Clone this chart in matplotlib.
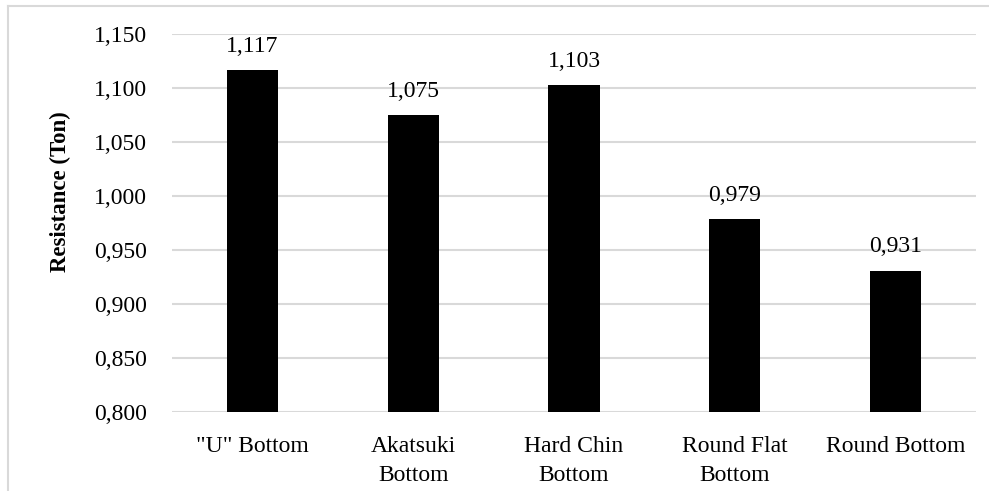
import matplotlib.pyplot as plt
from matplotlib.ticker import FuncFormatter, MultipleLocator
from matplotlib.lines import Line2D

# Data
hull_types = ['"U" Bottom', 'Akatsuki\nBottom', 'Hard Chin\nBottom', 'Round Flat\nBottom', 'Round Bottom']
resistance = [1.117, 1.075, 1.103, 0.979, 0.931]

plt.rcParams['font.family'] = ['Liberation Serif', 'DejaVu Serif']

W, H = 989, 491
fig = plt.figure(figsize=(W / 100, H / 100), dpi=100)
# plot area: x 172..976 px, y 34..412 px
ax = fig.add_axes([172 / W, 1 - 412 / H, (976 - 172) / W, (412 - 34) / H])

x = range(len(hull_types))
ax.bar(x, resistance, width=0.318, color='black', zorder=3)

# Value labels above the bars
for xi, v in zip(x, resistance):
    ax.annotate(f"{v:.3f}".replace('.', ','), (xi, v), xytext=(0, 13),
                textcoords='offset points', ha='center', va='baseline', fontsize=17)

ax.set_ylim(0.8, 1.15)
ax.set_xlim(-0.5, 4.5)
ax.yaxis.set_major_locator(MultipleLocator(0.05))
ax.yaxis.set_major_formatter(FuncFormatter(lambda v, p: f"{v:.3f}".replace('.', ',')))
ax.set_xticks(list(x))
ax.set_xticklabels(hull_types, fontsize=17, linespacing=1.55)
ax.tick_params(axis='y', labelsize=17, length=0, pad=18)
ax.tick_params(axis='x', length=0, pad=17)

ax.grid(axis='y', color='#d9d9d9', linewidth=1.5, zorder=0)
for s in ax.spines.values():
    s.set_visible(False)

fig.text(60 / W, 1 - 192 / H, 'Resistance (Ton)', rotation=90, ha='center', va='center',
         fontsize=16.5, fontweight='bold')

# Chart area border (top and left edges)
fig.add_artist(Line2D([7.7 / W, 1.0], [1 - 5.7 / H, 1 - 5.7 / H], color='#d9d9d9', linewidth=1.5))
fig.add_artist(Line2D([7.7 / W, 7.7 / W], [0.0, 1 - 5.7 / H], color='#d9d9d9', linewidth=1.5))

fig.savefig('out.png', dpi=100)
